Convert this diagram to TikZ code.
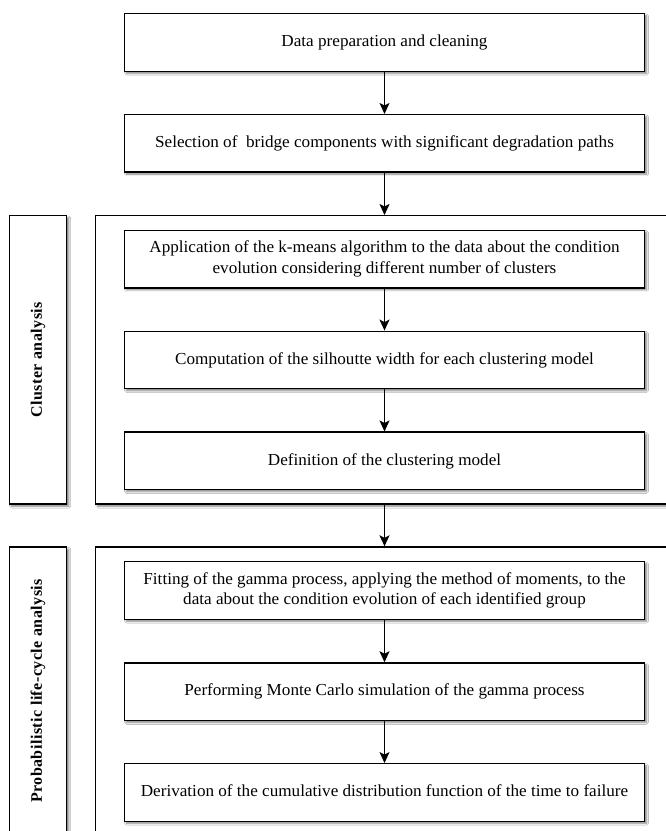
\documentclass[tikz,border=0pt]{standalone}
\usepackage{fontspec}
\setmainfont{Liberation Serif}
\newfontfamily\lblfont[LetterSpace=3]{Liberation Serif}
\usetikzlibrary{arrows.meta,shadows.blur}
\newcommand{\boxtext}[1]{\scalebox{1.02}[1]{\fontsize{16.8}{20.7}\selectfont\begin{tabular}{@{}c@{}}#1\end{tabular}}}
\tikzset{
  x=1pt,y=-1pt,
  stepbox/.style={draw=black, line width=1.4pt, fill=white, minimum width=520pt, minimum height=57.5pt, inner sep=0pt,
    blur shadow={shadow blur steps=6, shadow xshift=2pt, shadow yshift=-2pt, shadow opacity=50}},
  outerbox/.style={draw=black, line width=1.4pt, fill=white, inner sep=0pt,
    blur shadow={shadow blur steps=6, shadow xshift=2.2pt, shadow yshift=-2.2pt, shadow opacity=50}},
  lbl/.style={rotate=90, font=\lblfont\bfseries\fontsize{16}{19}\selectfont, inner sep=0pt},
  flow/.style={line width=1.4pt, -{Stealth[length=11pt,width=10pt,inset=2.5pt]}}
}
\begin{document}
\begin{tikzpicture}
\clip (0,0) rectangle (666,831);
\fill[white] (0,0) rectangle (666,831);
% top boxes
\node[stepbox] (b1) at (384.5,42.5) {\boxtext{Data preparation and cleaning}};
\node[stepbox] (b2) at (384.5,143.4) {\boxtext{Selection of\ \ bridge components with significant degradation paths}};
% cluster analysis group
\node[outerbox, minimum width=57.4pt, minimum height=288.3pt] (cl) at (38,359.85) {};
\node[lbl] (cllbl) at (cl.center) {Cluster analysis};
\node[outerbox, minimum width=620pt, minimum height=288.3pt] (clus) at (405.6,359.85) {};
\node[stepbox] (a) at (384.5,259.2) {\boxtext{Application of the k-means algorithm to the data about the condition\\ evolution considering different number of clusters}};
\node[stepbox] (b) at (384.5,360) {\boxtext{Computation of the silhoutte width for each clustering model}};
\node[stepbox] (c) at (384.5,460.9) {\boxtext{Definition of the clustering model}};
% probabilistic group
\node[outerbox, minimum width=57.4pt, minimum height=290pt] (pl) at (38,692) {};
\node[lbl] (pllbl) at (38,691) {Probabilistic life-cycle analysis};
\node[outerbox, minimum width=620pt, minimum height=290pt] (prob) at (405.6,692) {};
\node[stepbox] (d) at (384.5,590.5) {\boxtext{Fitting of the gamma process, applying the method of moments, to the\\ data about the condition evolution of each identified group}};
\node[stepbox] (e) at (384.5,691.7) {\boxtext{Performing Monte Carlo simulation of the gamma process}};
\node[stepbox] (f) at (384.5,792.5) {\boxtext{Derivation of the cumulative distribution function of the time to failure}};
% arrows
\draw[flow] (b1.south) -- (b2.north);
\draw[flow] (b2.south) -- (b2.south |- clus.north);
\draw[flow] (a.south) -- (b.north);
\draw[flow] (b.south) -- (c.north);
\draw[flow] (c.south |- clus.south) -- (c.south |- prob.north);
\draw[flow] (d.south) -- (e.north);
\draw[flow] (e.south) -- (f.north);
\end{tikzpicture}
\end{document}
